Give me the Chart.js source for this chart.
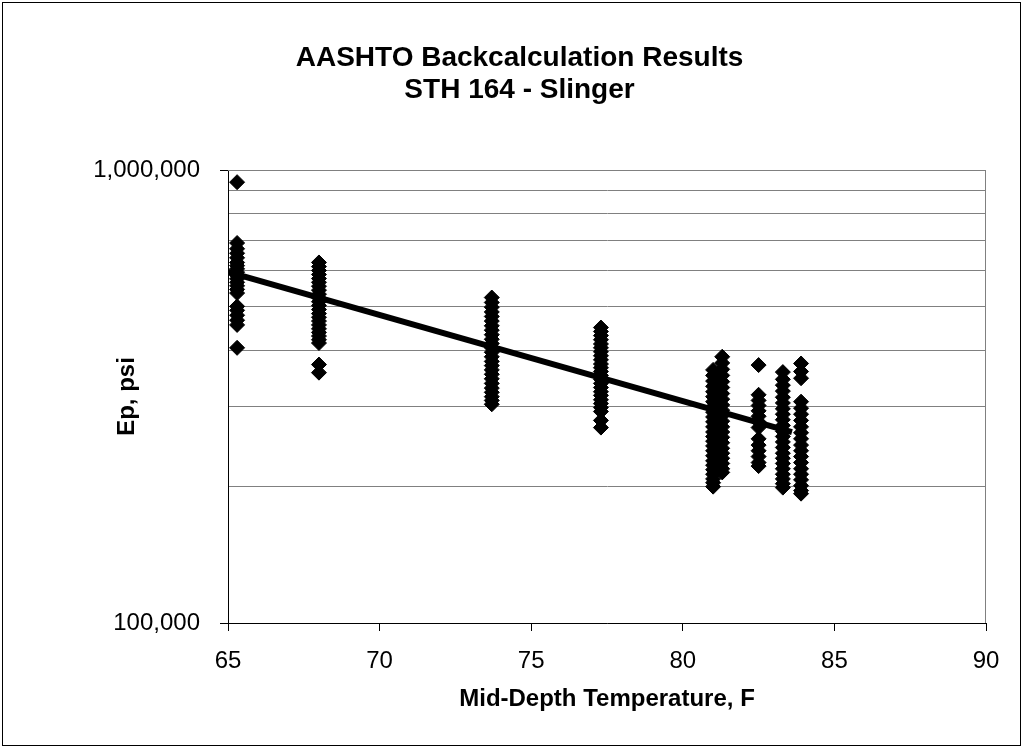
<!DOCTYPE html>
<html>
<head>
<meta charset="utf-8">
<script src="https://cdn.jsdelivr.net/npm/chart.js@4/dist/chart.umd.min.js"></script>
<style>
  html, body { margin: 0; padding: 0; background: #fff; }
  canvas { display: block; }
</style>
</head>
<body>
<canvas id="epChart" width="1023" height="748"></canvas>
<script>
// mid-depth temperature (F) of each test column
const tempColumns = [65.3, 68.0, 73.7, 77.3, 81.0, 81.3, 82.5, 83.3, 83.9];

// backcalculated Ep (psi)
const ep653 = [940000, 690000, 670000, 655000, 640000, 625000, 615000, 605000, 595000, 585000, 575000, 565000, 555000, 545000, 535000, 500000, 490000, 478000, 466000, 455000, 405000];
const ep680 = [625000, 612000, 600000, 588000, 576000, 565000, 554000, 543000, 532000, 522000, 512000, 502000, 492000, 482000, 473000, 464000, 455000, 446000, 438000, 430000, 422000, 415000, 372000, 357000];
const ep737 = [523000, 510000, 498000, 486000, 475000, 464000, 453000, 443000, 433000, 423000, 414000, 405000, 396000, 387000, 378000, 370000, 362000, 354000, 346000, 338000, 330000, 323000, 316000, 310000, 304000];
const ep773 = [449000, 440000, 431000, 422000, 413000, 405000, 397000, 389000, 381000, 373000, 366000, 359000, 352000, 345000, 338000, 331000, 324000, 318000, 311000, 305000, 299000, 293000, 280000, 270000];
const ep810 = [362000, 352000, 342000, 333000, 324000, 316000, 308000, 300000, 292000, 285000, 278000, 271000, 264000, 258000, 252000, 246000, 240000, 234000, 228000, 223000, 218000, 213000, 208000, 204000, 200000];
const ep813 = [387000, 375000, 363000, 352000, 341000, 331000, 321000, 312000, 303000, 295000, 287000, 279000, 271000, 264000, 257000, 250000, 243000, 237000, 231000, 225000, 219000, 215000];
const ep825 = [371000, 319000, 310000, 302000, 294000, 286000, 278000, 270000, 255000, 247000, 240000, 233000, 226000, 222000];
const ep833 = [358000, 345000, 335000, 325000, 315000, 306000, 297000, 289000, 281000, 273000, 265000, 258000, 251000, 244000, 237000, 231000, 225000, 219000, 213000, 208000, 203000, 199000];
const ep839 = [374000, 359000, 347000, 308000, 298000, 289000, 280000, 271000, 263000, 255000, 247000, 240000, 233000, 226000, 219000, 213000, 207000, 201000, 196000, 193000];
const epColumns = [ep653, ep680, ep737, ep773, ep810, ep813, ep825, ep833, ep839];

// fitted trend line end points
const trendTemps = [65.0, 83.6];
const trendEp = [596000, 264000];

// axis ticks
const xTicks = [65, 70, 75, 80, 85, 90];
const yGrid = [100000, 200000, 300000, 400000, 500000, 600000, 700000, 800000, 900000, 1000000];
const yLabels = [100000, 1000000];

const FONT = "'Liberation Sans', Arial, sans-serif";

const points = [];
tempColumns.forEach((t, i) => {
  epColumns[i].forEach(ep => points.push({ x: t, y: ep }));
});

// white page with the thin frame around the whole chart, plus plot area outline
const framePlugin = {
  id: "frame",
  beforeDraw(chart) {
    const ctx = chart.ctx;
    ctx.save();
    ctx.fillStyle = "#fff";
    ctx.fillRect(0, 0, chart.width, chart.height);
    ctx.strokeStyle = "#000";
    ctx.lineWidth = 1;
    ctx.strokeRect(2.5, 2.5, chart.width - 5, chart.height - 5);
    ctx.restore();
  },
  beforeDatasetsDraw(chart) {
    const { ctx, chartArea: a } = chart;
    ctx.save();
    ctx.strokeStyle = "#808080";
    ctx.lineWidth = 1;
    ctx.beginPath();
    ctx.moveTo(a.left, a.top + 0.5);
    ctx.lineTo(a.right - 0.5, a.top + 0.5);
    ctx.lineTo(a.right - 0.5, a.bottom);
    ctx.stroke();
    ctx.restore();
  }
};

new Chart(document.getElementById("epChart").getContext("2d"), {
  type: "scatter",
  data: {
    datasets: [
      {
        label: "Ep",
        data: points,
        pointStyle: "rectRot",
        pointRadius: 7.5,
        backgroundColor: "#000",
        borderColor: "#000",
        borderWidth: 1,
        order: 2,
      },
      {
        label: "Trend",
        type: "line",
        data: trendTemps.map((t, i) => ({ x: t, y: trendEp[i] })),
        borderColor: "#000",
        borderWidth: 6,
        pointRadius: 0,
        fill: false,
        order: 1,
      },
    ],
  },
  options: {
    responsive: false,
    animation: false,
    layout: {
      padding: { left: 53, right: 37, top: 0, bottom: 0 }
    },
    plugins: {
      legend: { display: false },
      tooltip: { enabled: false },
      title: {
        display: true,
        text: ["AASHTO Backcalculation Results", "STH 164 - Slinger"],
        color: "#000",
        font: { family: FONT, size: 28, weight: "bold", lineHeight: 1.15 },
        padding: { top: 42, bottom: 63.6 }
      }
    },
    scales: {
      x: {
        type: "linear",
        min: 65,
        max: 90,
        afterBuildTicks: scale => { scale.ticks = xTicks.map(v => ({ value: v })); },
        afterFit: scale => { scale.height = 125; },
        ticks: {
          color: "#000",
          padding: 16,
          font: { family: FONT, size: 24 }
        },
        grid: {
          drawOnChartArea: false,
          tickLength: 8,
          tickColor: "#000"
        },
        border: { color: "#000", width: 1 },
        title: {
          display: true,
          text: "Mid-Depth Temperature, F",
          color: "#000",
          font: { family: FONT, size: 24, weight: "bold" },
          padding: { top: 0, bottom: 34 }
        }
      },
      y: {
        type: "logarithmic",
        min: 100000,
        max: 1000000,
        afterBuildTicks: scale => { scale.ticks = yGrid.map(v => ({ value: v })); },
        afterFit: scale => { scale.width = 175; },
        ticks: {
          color: "#000",
          padding: 20,
          autoSkip: false,
          font: { family: FONT, size: 24 },
          callback: value => yLabels.includes(value) ? value.toLocaleString("en-US") : ""
        },
        grid: {
          color: "#808080",
          lineWidth: 1,
          tickLength: 8,
          tickColor: ctx => yLabels.includes(ctx.tick && ctx.tick.value) ? "#000" : "rgba(0,0,0,0)"
        },
        border: { color: "#000", width: 1 },
        title: {
          display: true,
          text: "Ep, psi",
          color: "#000",
          font: { family: FONT, size: 24, weight: "bold" },
          padding: { top: 59.6, bottom: 0 }
        }
      }
    }
  },
  plugins: [framePlugin]
});
</script>
</body>
</html>
